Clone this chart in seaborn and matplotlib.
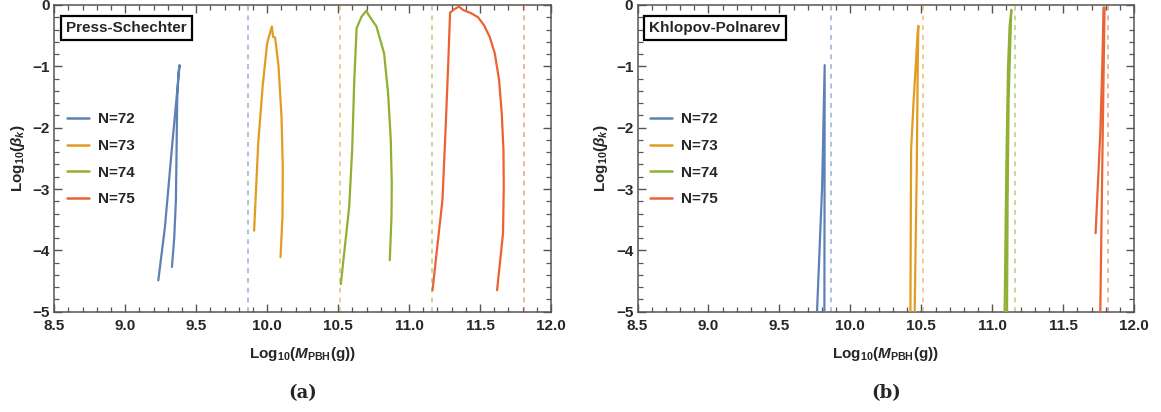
import numpy as np
import pandas as pd
import matplotlib
matplotlib.use("Agg")
import matplotlib.pyplot as plt
import seaborn as sns
from matplotlib.ticker import MultipleLocator, FormatStrFormatter
from matplotlib.lines import Line2D

# ---------------- data ----------------
series_labels = ["N=72", "N=73", "N=74", "N=75"]
colors = ["#5E81B5", "#E19C24", "#8FB032", "#EB6235"]
thresholds = [9.862, 10.512, 11.162, 11.813]

# Press-Schechter (panel a): paths in drawing order
ps72_x = [9.233, 9.280, 9.330, 9.383, 9.375, 9.366, 9.357, 9.345, 9.329]
ps72_y = [-4.49, -3.61, -2.30, -0.98, -1.10, -1.55, -3.18, -3.80, -4.27]
ps73_x = [9.908, 9.937, 9.968, 10.000, 10.033, 10.042, 10.056, 10.080, 10.101, 10.110, 10.108, 10.094]
ps73_y = [-3.68, -2.25, -1.33, -0.62, -0.35, -0.52, -0.53, -1.00, -1.82, -2.64, -3.45, -4.11]
ps74_x = [10.519, 10.578, 10.599, 10.613, 10.630, 10.665, 10.700, 10.711, 10.770, 10.824, 10.852, 10.871, 10.878, 10.876, 10.864]
ps74_y = [-4.55, -3.29, -2.36, -1.28, -0.38, -0.19, -0.09, -0.15, -0.35, -0.79, -1.44, -2.20, -2.91, -3.45, -4.16]
ps75_x = [11.165, 11.235, 11.256, 11.275, 11.289, 11.317, 11.352, 11.380, 11.439, 11.486, 11.528, 11.568, 11.604, 11.634, 11.653, 11.665, 11.667, 11.662, 11.620]
ps75_y = [-4.65, -3.18, -2.09, -1.00, -0.125, -0.07, -0.027, -0.08, -0.136, -0.20, -0.33, -0.52, -0.79, -1.22, -1.77, -2.36, -2.96, -3.72, -4.65]

# Khlopov-Polnarev (panel b)
kp72_x = [9.765, 9.801, 9.819, 9.818, 9.817]
kp72_y = [-5.0, -2.96, -0.98, -3.0, -5.0]
kp73_x = [10.423, 10.428, 10.446, 10.474, 10.479, 10.474, 10.468, 10.453]
kp73_y = [-5.0, -2.36, -1.55, -0.46, -0.34, -1.14, -2.64, -5.0]
kp74_x = [11.087, 11.099, 11.111, 11.122, 11.134, 11.127, 11.115, 11.108, 11.104]
kp74_y = [-5.0, -2.64, -1.00, -0.35, -0.08, -0.60, -1.55, -3.18, -5.0]
kp75_x = [11.728, 11.761, 11.775, 11.784, 11.791, 11.775, 11.761]
kp75_y = [-3.72, -2.09, -1.00, -0.04, -0.04, -2.64, -5.0]

panels = [
    ("Press-Schechter", [(ps72_x, ps72_y), (ps73_x, ps73_y), (ps74_x, ps74_y), (ps75_x, ps75_y)], "(a)"),
    ("Khlopov-Polnarev", [(kp72_x, kp72_y), (kp73_x, kp73_y), (kp74_x, kp74_y), (kp75_x, kp75_y)], "(b)"),
]

# ---------------- style ----------------
sns.set_style("ticks")
plt.rcParams["font.family"] = ["Liberation Sans", "DejaVu Sans"]
plt.rcParams["font.weight"] = "bold"
plt.rcParams["mathtext.fontset"] = "custom"
plt.rcParams["mathtext.rm"] = "Liberation Sans:bold"
plt.rcParams["mathtext.it"] = "Liberation Sans:bold:italic"
plt.rcParams["mathtext.bf"] = "Liberation Sans:bold"

fig = plt.figure(figsize=(11.61, 4.12), dpi=100)
W, H = 1161.0, 412.0
ax_w = (551 - 54.3) / W
ax_h = (311.7 - 5) / H
ax_bottom = 1 - 311.7 / H
lefts = [54.3 / W, 637.5 / W]

frame_col = "#555555"

for (title, curves, cap), left in zip(panels, lefts):
    ax = fig.add_axes([left, ax_bottom, ax_w, ax_h])
    rows = []
    for lab, (xs, ys) in zip(series_labels, curves):
        for i, (xv, yv) in enumerate(zip(xs, ys)):
            rows.append({"x": xv, "y": yv, "N": lab, "i": i})
    df = pd.DataFrame(rows)
    # dashed threshold lines
    for xv, c in zip(thresholds, colors):
        ax.axvline(xv, color=c, alpha=0.5, lw=1.4, ls=(0, (2.5, 2.5)), zorder=1)
    sns.lineplot(data=df, x="x", y="y", hue="N", units="N", estimator=None,
                 sort=False, palette=colors, hue_order=series_labels,
                 lw=1.6, legend=False, ax=ax, zorder=3)
    ax.set_xlim(8.5, 12.0)
    ax.set_ylim(-5, 0)
    ax.xaxis.set_major_locator(MultipleLocator(0.5))
    ax.xaxis.set_minor_locator(MultipleLocator(0.1))
    ax.yaxis.set_major_locator(MultipleLocator(1))
    ax.yaxis.set_minor_locator(MultipleLocator(0.2))
    ax.xaxis.set_major_formatter(FormatStrFormatter("%.1f"))
    ax.tick_params(which="both", direction="in", top=True, right=True,
                   color=frame_col, labelsize=11)
    ax.tick_params(axis="x", which="major", pad=5)
    ax.tick_params(axis="y", which="major", pad=3)
    ax.tick_params(which="major", length=6, width=1)
    ax.tick_params(which="minor", length=3.5, width=0.9)
    for lbl in ax.get_xticklabels() + ax.get_yticklabels():
        lbl.set_fontweight("bold")
    for sp in ax.spines.values():
        sp.set_color(frame_col)
        sp.set_linewidth(1.1)
    ax.set_xlabel(r"$\mathrm{Log}_{\mathrm{10}}(M_{\mathrm{PBH}}\mathrm{(g))}$", fontsize=11, labelpad=9)
    ax.set_ylabel(r"$\mathrm{Log}_{\mathrm{10}}(\beta_k)$", fontsize=11, labelpad=4)
    # title box
    ax.text(0.024, 0.925, title, transform=ax.transAxes, fontsize=11, fontweight="bold",
            ha="left", va="center", zorder=5,
            bbox=dict(boxstyle="square,pad=0.35", fc="white", ec="black", lw=1.6))
    handles = [Line2D([0], [0], color=c, lw=1.8) for c in colors]
    ax.legend(handles, series_labels, loc="center left", bbox_to_anchor=(0.026, 0.497),
              frameon=False, handlelength=1.4, handletextpad=0.6,
              labelspacing=0.82, borderpad=0, borderaxespad=0,
              prop={"weight": "bold", "size": 11})
    fig.text(left + ax_w / 2, 1 - 393 / H, cap, ha="center", va="center",
             family="DejaVu Serif", fontweight="bold", fontsize=13)

fig.savefig("out.png", dpi=100)
